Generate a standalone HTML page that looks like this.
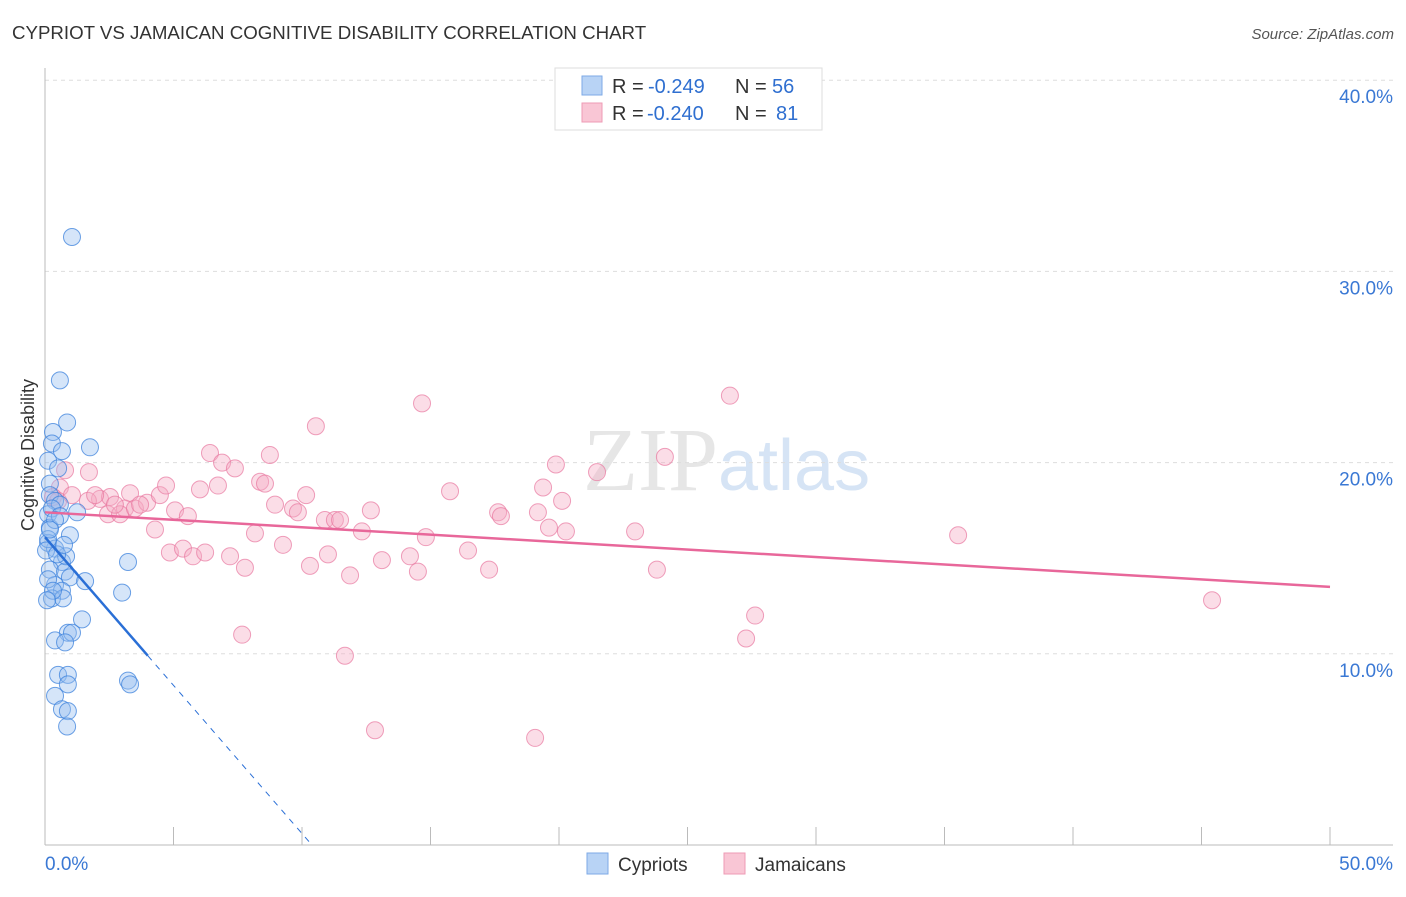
<!DOCTYPE html>
<html><head><meta charset="utf-8"><style>
body{margin:0;background:#fff;font-family:"Liberation Sans",sans-serif}
</style></head><body>
<svg id="chart" width="1406" height="892" xmlns="http://www.w3.org/2000/svg">
<text x="12" y="39" font-size="18.7" fill="#333">CYPRIOT VS JAMAICAN COGNITIVE DISABILITY CORRELATION CHART</text>
<text x="1394" y="39" font-size="15" fill="#555" font-style="italic" text-anchor="end">Source: ZipAtlas.com</text>
<text x="718" y="490" font-size="90" fill="#e6e6e6" text-anchor="end" font-family="Liberation Serif">ZIP</text>
<text x="718" y="490" font-size="72" fill="#d6e4f5">atlas</text>
<g id="grid"></g><g id="axes"></g><g id="pts"></g><g id="lines"></g>
<text transform="translate(34,455) rotate(-90)" font-size="18" fill="#333" text-anchor="middle">Cognitive Disability</text>
<g>
<rect x="555" y="68" width="267" height="62" fill="#fff" stroke="#ddd"/>
<rect x="582" y="76" width="20" height="19" fill="#b8d3f5" stroke="#7ea9e6"/>
<rect x="582" y="103" width="20" height="19" fill="#f9c6d5" stroke="#ee9bb5"/>
<text x="612" y="93" font-size="20" fill="#333">R = <tspan x="648" fill="#2f6fd0">-0.249</tspan><tspan x="735">N = </tspan><tspan x="772" fill="#2f6fd0">56</tspan></text>
<text x="612" y="120" font-size="20" fill="#333">R = <tspan x="647" fill="#2f6fd0">-0.240</tspan><tspan x="735">N = </tspan><tspan x="776" fill="#2f6fd0">81</tspan></text>
</g>
<g>
<rect x="587" y="853" width="21" height="21" fill="#b8d3f5" stroke="#7ea9e6"/>
<text x="618" y="871" font-size="19" fill="#333">Cypriots</text>
<rect x="724" y="853" width="21" height="21" fill="#f9c6d5" stroke="#ee9bb5"/>
<text x="755" y="871" font-size="19" fill="#333">Jamaicans</text>
</g>
</svg>
<script>
const yTicks=[10,20,30,40];
const xTickLabels=["0.0%","50.0%"];
const blueX=[1.05,0.58,0.86,1.75,0.31,0.27,0.66,0.12,0.51,0.19,0.19,0.39,0.58,1.25,0.12,0.19,0.97,0.12,0.39,0.66,3.23,0.19,0.78,0.97,0.39,1.56,0.66,3.0,0.27,0.70,1.44,0.89,1.05,0.39,0.78,0.51,0.89,0.39,0.89,3.23,3.31,0.66,0.89,0.86,0.12,0.27,0.04,0.58,0.39,0.12,0.31,0.08,0.82,0.47,0.19,0.74];
const blueY=[31.8,24.3,22.1,20.8,21.6,21.0,20.6,20.1,19.7,18.9,18.3,18.0,17.8,17.4,17.3,16.6,16.2,15.8,15.5,14.8,14.8,14.4,14.3,14.0,13.6,13.8,13.3,13.2,12.9,12.9,11.8,11.1,11.1,10.7,10.6,8.9,8.9,7.8,8.4,8.6,8.4,7.1,7.0,6.2,16.0,17.6,15.4,17.2,17.0,13.9,13.3,12.8,15.1,15.2,16.5,15.7];
const pinkX=[0.78,1.71,0.58,0.31,0.51,1.05,2.14,2.53,3.31,3.11,2.45,2.92,3.50,3.97,4.28,4.47,4.71,5.06,5.56,4.86,5.37,5.76,6.23,6.03,6.42,6.73,6.89,7.39,7.20,7.78,7.67,8.17,8.37,8.56,8.75,8.95,9.26,9.65,9.84,10.16,10.31,10.54,10.89,11.01,11.28,11.48,11.67,11.87,12.33,12.68,12.84,13.11,14.2,14.51,14.67,14.82,15.76,16.46,17.28,17.63,17.74,19.07,19.18,19.38,19.61,19.88,20.12,20.27,21.48,22.96,23.81,24.12,26.65,27.28,27.63,35.53,45.41,1.67,1.95,2.72,3.70];
const pinkY=[19.6,19.5,18.7,18.2,18.0,18.3,18.1,18.2,18.4,17.6,17.3,17.3,17.6,17.9,16.5,18.3,18.8,17.5,17.2,15.3,15.5,15.1,15.3,18.6,20.5,18.8,20.0,19.7,15.1,14.5,11.0,16.3,19.0,18.9,20.4,17.8,15.7,17.6,17.4,18.3,14.6,21.9,17.0,15.2,17.0,17.0,9.9,14.1,16.4,17.5,6.0,14.9,15.1,14.3,23.1,16.1,18.5,15.4,14.4,17.4,17.2,5.6,17.4,18.7,16.6,19.9,18.0,16.4,19.5,16.4,14.4,20.3,23.5,10.8,12.0,16.2,12.8,18.0,18.3,17.8,17.8];
const blueFit=[16.1,-1.55];
const pinkFit=[17.4,13.5];
const X=v=>45+v*25.7, Y=v=>845-v*19.12;
const NS="http://www.w3.org/2000/svg";
function mk(p,t,a){const e=document.createElementNS(NS,t);for(const k in a)e.setAttribute(k,a[k]);p.appendChild(e);return e;}
const grid=document.getElementById('grid'),axes=document.getElementById('axes'),pts=document.getElementById('pts'),lines=document.getElementById('lines');
yTicks.forEach(t=>{
 const l=mk(grid,'line',{x1:45,x2:1393,y1:Y(t),y2:Y(t),stroke:'#ddd','stroke-dasharray':'4,4'});
 
 
 const tx=mk(grid,'text',{x:1393,y:Y(t)+23,'font-size':19,fill:'#3a78d4','text-anchor':'end'});tx.textContent=t.toFixed(1)+'%';
 
 
});
const ax=mk(axes,'line',{x1:45,x2:45,y1:68,y2:845,stroke:'#bbb'});


const bx=mk(axes,'line',{x1:45,x2:1393,y1:845,y2:845,stroke:'#bbb'});


for(let i=1;i<=10;i++){const t=mk(axes,'line',{x1:X(i*5),x2:X(i*5),y1:827,y2:845,stroke:'#bbb'});
 
 }
[[0,'start',45],[50,'end',1393]].forEach((d,i)=>{const t=mk(axes,'text',{x:d[2],y:870,'font-size':19,fill:'#3a78d4','text-anchor':d[1]});t.textContent=xTickLabels[i];
 
 });
pinkX.forEach((x,i)=>{const c=mk(pts,'circle',{cx:X(x),cy:Y(pinkY[i]),r:8.5,fill:'rgba(246,170,195,0.4)',stroke:'rgba(232,120,160,0.7)'});
 
 });
blueX.forEach((x,i)=>{const c=mk(pts,'circle',{cx:X(x),cy:Y(blueY[i]),r:8.5,fill:'rgba(150,190,240,0.4)',stroke:'rgba(60,130,220,0.75)'});
 
 });
const pl=mk(lines,'line',{x1:X(0),y1:Y(pinkFit[0]),x2:X(50),y2:Y(pinkFit[1]),stroke:'#e8679a','stroke-width':2.5});


const xe=4.0, x0=-blueFit[0]/blueFit[1];
const bl=mk(lines,'line',{x1:X(0),y1:Y(blueFit[0]),x2:X(xe),y2:Y(blueFit[0]+blueFit[1]*xe),stroke:'#2a6fd6','stroke-width':2.5});


const bd=mk(lines,'line',{x1:X(xe),y1:Y(blueFit[0]+blueFit[1]*xe),x2:X(x0),y2:Y(0),stroke:'#2a6fd6','stroke-width':1,'stroke-dasharray':'6,6'});


</script>
</body></html>
